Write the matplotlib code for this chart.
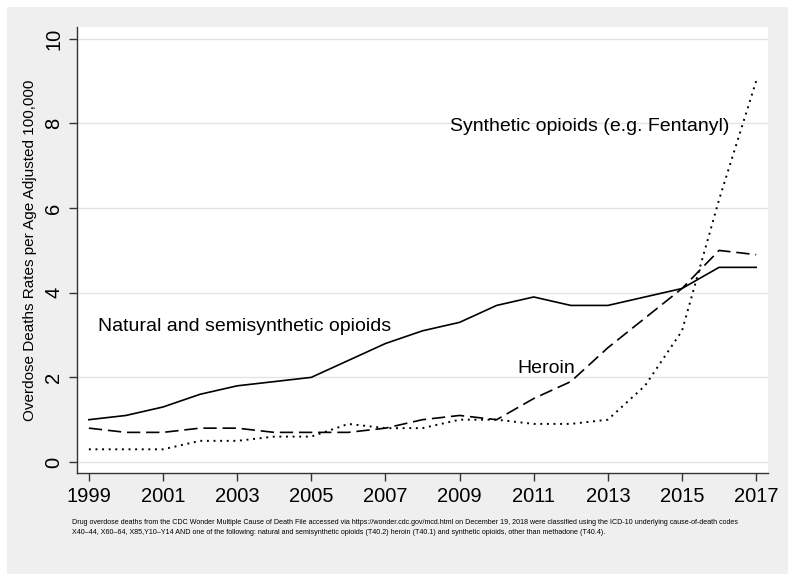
import matplotlib
matplotlib.use("Agg")
import matplotlib.pyplot as plt
from matplotlib.patches import Rectangle

years = list(range(1999, 2018))
natural = [1.0, 1.1, 1.3, 1.6, 1.8, 1.9, 2.0, 2.4, 2.8, 3.1, 3.3, 3.7, 3.9, 3.7, 3.7, 3.9, 4.1, 4.6, 4.6]
heroin = [0.8, 0.7, 0.7, 0.8, 0.8, 0.7, 0.7, 0.7, 0.8, 1.0, 1.1, 1.0, 1.5, 1.9, 2.7, 3.4, 4.1, 5.0, 4.9]
synthetic = [0.3, 0.3, 0.3, 0.5, 0.5, 0.6, 0.6, 0.9, 0.8, 0.8, 1.0, 1.0, 0.9, 0.9, 1.0, 1.8, 3.1, 6.2, 9.0]
xticks = list(range(1999, 2018, 2))
yticks = [0, 2, 4, 6, 8, 10]

ylabel = "Overdose Deaths Rates per Age Adjusted 100,000"
footnote1 = ("Drug overdose deaths from the CDC Wonder Multiple Cause of Death File accessed via "
             "https://wonder.cdc.gov/mcd.html on December 19, 2018 were classified using the ICD-10 "
             "underlying cause-of-death codes")
footnote2 = ("X40\u201344, X60\u201364, X85,Y10\u2013Y14 AND one of the following: natural and semisynthetic "
             "opioids (T40.2) heroin (T40.1) and synthetic opioids, other than methadone (T40.4).")

plt.rcParams['font.family'] = ['Liberation Sans', 'DejaVu Sans']

W, H = 800, 582
fig = plt.figure(figsize=(8, 5.82), dpi=100, facecolor='white')
fig.patches.append(Rectangle((7 / W, 1 - 574 / H), 781 / W, 567 / H,
                             transform=fig.transFigure, facecolor='#efefef',
                             edgecolor='none', zorder=-10))

ax = fig.add_axes([77 / W, 1 - 473 / H, (768 - 77) / W, (473 - 27) / H])
ax.set_zorder(1)
ax.set_facecolor('white')

ax.plot(years, natural, color='black', lw=1.2, solid_joinstyle='round')
ax.plot(years, heroin, color='black', lw=1.2, linestyle=(0, (8, 3.5)))
ax.plot(years, synthetic, color='black', lw=1.4, linestyle=(0, (1, 2.4)))

ax.set_xlim(1998.68, 2017.32)
ax.set_ylim(-0.26, 10.28)
ax.set_xticks(xticks)
ax.set_yticks(yticks)
ax.set_yticklabels([str(v) for v in yticks], rotation=90, va='center')
ax.tick_params(axis='both', direction='out', length=6, width=1, color='#333333',
               labelsize=14.5, pad=4)
ax.grid(axis='y', color='#e4e4e4', lw=1)
ax.set_axisbelow(True)
for s in ['top', 'right']:
    ax.spines[s].set_visible(False)
for s in ['left', 'bottom']:
    ax.spines[s].set_color('#333333')
    ax.spines[s].set_linewidth(1)

ax.set_ylabel(ylabel, fontsize=11, labelpad=5)

ax.text(2008.75, 7.94, "Synthetic opioids (e.g. Fentanyl)", fontsize=14, va='center', ha='left')
ax.text(1999.25, 3.2, "Natural and semisynthetic opioids", fontsize=14, va='center', ha='left')
ax.text(2010.55, 2.22, "Heroin", fontsize=14, va='center', ha='left')

t1 = fig.text(72 / W, 1 - 523 / H, footnote1, fontsize=5.5, va='center', ha='left',
              family=['Liberation Sans Narrow', 'Liberation Sans', 'DejaVu Sans'])
t2 = fig.text(72 / W, 1 - 533 / H, footnote2, fontsize=5.5, va='center', ha='left',
              family=['Liberation Sans Narrow', 'Liberation Sans', 'DejaVu Sans'])
fig.canvas.draw()
r = fig.canvas.get_renderer()
w = t1.get_window_extent(r).width
fs = 5.5 * (664 / w)
t1.set_fontsize(fs)
t2.set_fontsize(fs)

fig.savefig("out.png", dpi=100, facecolor='white')
